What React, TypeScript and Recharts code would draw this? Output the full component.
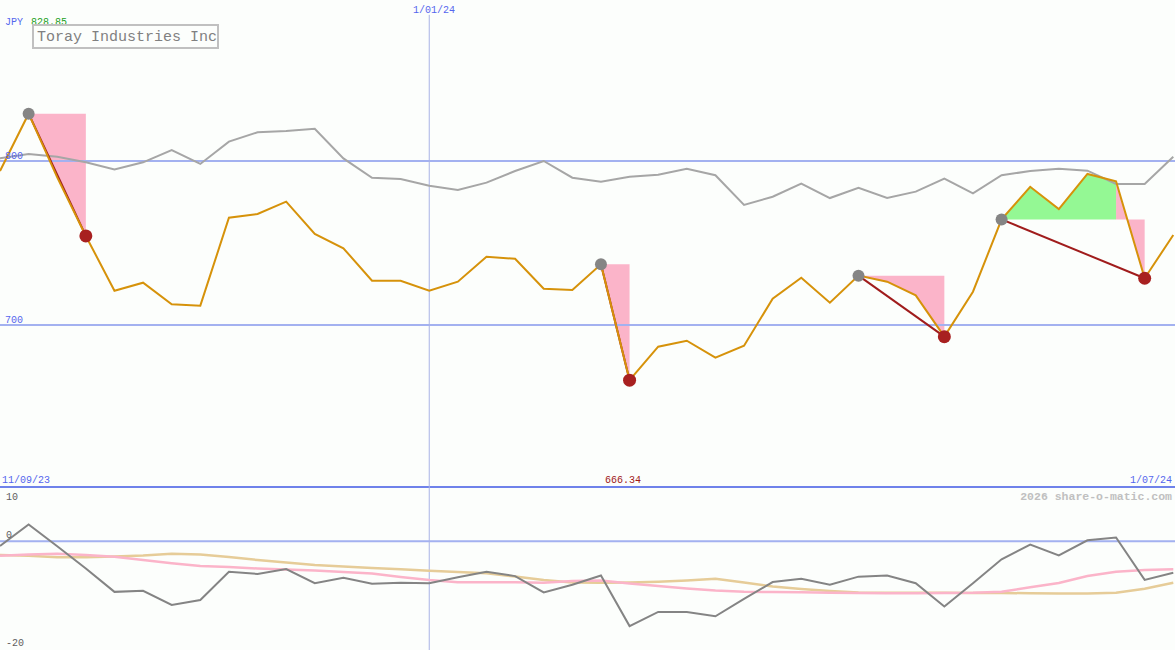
import React from 'react';
import { ComposedChart, Line, Area, XAxis, YAxis, ReferenceLine } from 'recharts';

// ---- data (weekly closes, JPY) ----
const price = [793.9, 828.85, 790.0, 754.3, 720.9, 725.8, 712.6, 711.8, 765.4, 767.7, 775.2, 755.5, 746.8, 727.0, 727.0, 720.9, 726.4, 741.6, 740.4, 722.1, 721.3, 737.0, 666.34, 686.8, 690.4, 680.1, 687.4, 716.0, 728.8, 713.6, 730.1, 726.4, 718.1, 692.9, 720.3, 764.4, 784.3, 770.7, 792.1, 787.6, 728.5, 754.9];
const benchmark = [801.6, 804.3, 802.6, 799.2, 794.9, 799.2, 806.7, 798.2, 811.8, 817.5, 818.3, 819.7, 801.6, 789.8, 789.0, 784.9, 782.3, 786.8, 793.9, 800.0, 789.8, 787.4, 790.4, 791.6, 795.3, 791.3, 773.2, 778.2, 786.2, 777.4, 783.7, 777.4, 781.3, 789.2, 780.3, 791.3, 793.9, 795.3, 794.1, 786.0, 786.0, 802.6];
const momentum = [-0.86, 3.1, -0.9, -5.0, -9.3, -9.1, -11.7, -10.8, -5.6, -6.0, -5.1, -7.7, -6.7, -7.8, -7.6, -7.7, -6.6, -5.6, -6.4, -9.4, -8.0, -6.3, -15.6, -13.0, -13.0, -13.8, -10.6, -7.5, -6.9, -8.0, -6.5, -6.3, -7.7, -12.0, -7.7, -3.3, -0.6, -2.6, 0.2, 0.7, -7.1, -5.8];
const momentumFast = [-2.64, -2.42, -2.28, -2.5, -2.83, -3.44, -4.04, -4.54, -4.72, -5.0, -5.18, -5.37, -5.65, -5.92, -6.57, -7.12, -7.54, -7.54, -7.54, -7.61, -7.3, -7.2, -7.76, -8.22, -8.68, -9.05, -9.27, -9.33, -9.38, -9.46, -9.51, -9.57, -9.57, -9.5, -9.45, -9.27, -8.47, -7.67, -6.38, -5.59, -5.28, -5.15];
const momentumSlow = [-2.52, -2.66, -2.94, -2.94, -2.79, -2.61, -2.28, -2.42, -2.88, -3.44, -3.9, -4.36, -4.63, -4.91, -5.15, -5.4, -5.65, -5.88, -6.47, -7.12, -7.58, -7.61, -7.58, -7.45, -7.21, -6.88, -7.58, -8.31, -8.77, -9.14, -9.42, -9.45, -9.45, -9.45, -9.49, -9.51, -9.55, -9.58, -9.62, -9.45, -8.72, -7.61];

const peakIdx = [1, 21, 30, 35];
const troughIdx = [3, 22, 33, 40];
// [start, end, index of base level]
const pinkSpans = [[1, 3, 1], [21, 22, 21], [30, 33, 30], [39, 40, 35]];
const greenSpans = [[35, 39, 35]];

const priceGridLines = [700, 800];
const momentumLabels = ['10', '0', '-20'];
const startDate = '11/09/23';
const midDate = '1/01/24';
const endDate = '1/07/24';
const midDateIndex = 15;
const title = 'Toray Industries Inc';
const currency = 'JPY';
const maxPriceLabel = '828.85';
const minPriceLabel = '666.34';

// ---- build table ----
const data = price.map((p, i) => {
  const row: any = {
    i,
    price: p,
    benchmark: benchmark[i],
    momentum: momentum[i],
    fast: momentumFast[i],
    slow: momentumSlow[i],
    pinkRange: null,
    greenRange: null,
    peakDot: peakIdx.includes(i) ? p : null,
    troughDot: troughIdx.includes(i) ? p : null,
  };
  pinkSpans.forEach(([s, e, b]) => {
    if (i >= s && i <= e) row.pinkRange = [price[b], p];
  });
  greenSpans.forEach(([s, e, b]) => {
    if (i >= s && i <= e) row.greenRange = [price[b], p];
  });
  peakIdx.forEach((pk, k) => {
    row['link' + k] = i === pk || i === troughIdx[k] ? p : null;
  });
  return row;
});

const W = 1175;
const H = 650;
const mono = '"Liberation Mono", "DejaVu Sans Mono", monospace';

export default function App() {
  return (
    <div style={{ position: 'absolute', left: 0, top: 0, width: W, height: H, background: '#fcfefc', overflow: 'hidden' }}>
      <ComposedChart width={W} height={H} data={data} margin={{ top: 0, right: 0, bottom: 0, left: 0 }}>
        <XAxis dataKey="i" type="number" domain={[0, 41.06]} hide allowDataOverflow />
        <YAxis yAxisId="p" type="number" domain={[501.83, 898.17]} hide allowDataOverflow />
        <YAxis yAxisId="m" type="number" domain={[-20, 99.63]} hide allowDataOverflow />

        {priceGridLines.map((v) => (
          <ReferenceLine key={v} yAxisId="p" y={v} stroke="#a3b1f0" strokeWidth={2} />
        ))}
        <ReferenceLine yAxisId="m" y={0} stroke="#a3b1f0" strokeWidth={2} />
        <ReferenceLine yAxisId="m" y={10} stroke="#6f82ea" strokeWidth={2} />
        <ReferenceLine
          yAxisId="m"
          segment={[{ x: midDateIndex, y: 96.9 }, { x: midDateIndex, y: -20 }]}
          stroke="#a8b2e6"
          strokeWidth={1}
        />

        <Area yAxisId="p" dataKey="pinkRange" type="linear" stroke="none" fill="#fbb4c9" fillOpacity={1} isAnimationActive={false} connectNulls={false} activeDot={false} />
        <Area yAxisId="p" dataKey="greenRange" type="linear" stroke="none" fill="#94f894" fillOpacity={1} isAnimationActive={false} connectNulls={false} activeDot={false} />

        <Line yAxisId="p" dataKey="benchmark" type="linear" stroke="#a6a6a6" strokeWidth={2} dot={false} activeDot={false} isAnimationActive={false} />

        {peakIdx.map((_, k) => (
          <Line key={k} yAxisId="p" dataKey={'link' + k} type="linear" stroke="#a01c1c" strokeWidth={2} dot={false} activeDot={false} connectNulls isAnimationActive={false} />
        ))}

        <Line yAxisId="p" dataKey="peakDot" stroke="none" dot={{ r: 6, fill: '#858585', stroke: 'none' }} activeDot={false} isAnimationActive={false} />
        <Line yAxisId="p" dataKey="troughDot" stroke="none" dot={{ r: 6.5, fill: '#a82020', stroke: 'none' }} activeDot={false} isAnimationActive={false} />

        <Line yAxisId="p" dataKey="price" type="linear" stroke="#d6920a" strokeWidth={2} dot={false} activeDot={false} isAnimationActive={false} />

        <Line yAxisId="m" dataKey="slow" type="linear" stroke="#e6cc98" strokeWidth={2.5} dot={false} activeDot={false} isAnimationActive={false} />
        <Line yAxisId="m" dataKey="fast" type="linear" stroke="#fbb4c9" strokeWidth={2.5} dot={false} activeDot={false} isAnimationActive={false} />
        <Line yAxisId="m" dataKey="momentum" type="linear" stroke="#848484" strokeWidth={2} dot={false} activeDot={false} isAnimationActive={false} />
      </ComposedChart>

      <svg width={W} height={H} style={{ position: 'absolute', left: 0, top: 0, pointerEvents: 'none' }} fontFamily={mono}>
        <text x={5} y={25} fontSize={10} fill="#5566ee">{currency}</text>
        <text x={31} y={25} fontSize={10} fill="#22a022">{maxPriceLabel}</text>
        <rect x={33} y={25} width={185} height={23} fill="#fcfefc" stroke="#c0c0c0" strokeWidth={2} />
        <text x={37} y={41} fontSize={15} fill="#808080">{title}</text>

        <text x={434} y={13} fontSize={10} fill="#5566ee" textAnchor="middle">{midDate}</text>

        <text x={5} y={159} fontSize={10} fill="#5566ee">800</text>
        <text x={5} y={323} fontSize={10} fill="#5566ee">700</text>

        <text x={2} y={483} fontSize={10} fill="#5566ee">{startDate}</text>
        <text x={623} y={483} fontSize={10} fill="#a01818" textAnchor="middle">{minPriceLabel}</text>
        <text x={1172} y={483} fontSize={10} fill="#5566ee" textAnchor="end">{endDate}</text>

        <text x={1172} y={500} fontSize={11.5} fill="#c0c0c0" fontWeight="bold" textAnchor="end">2026 share-o-matic.com</text>

        <text x={6} y={500} fontSize={10} fill="#606060">{momentumLabels[0]}</text>
        <text x={6} y={538} fontSize={10} fill="#606060">{momentumLabels[1]}</text>
        <text x={6} y={646} fontSize={10} fill="#606060">{momentumLabels[2]}</text>
      </svg>
    </div>
  );
}
